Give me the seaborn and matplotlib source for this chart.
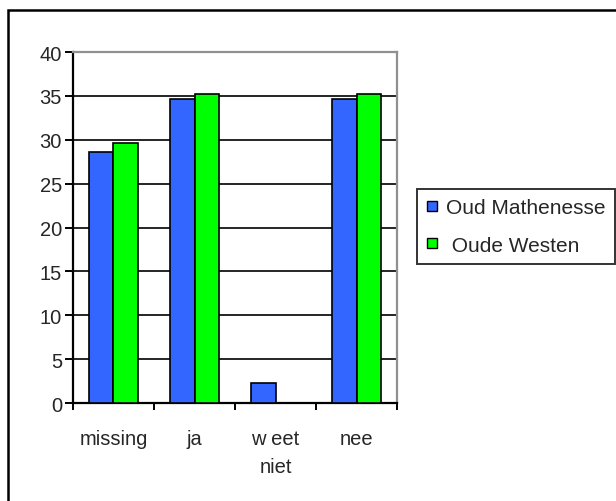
import matplotlib
matplotlib.use('Agg')
import matplotlib.pyplot as plt
from matplotlib.lines import Line2D
from matplotlib.patches import Rectangle
import seaborn as sns
import pandas as pd

categories = ['missing', 'ja', 'w eet\nniet', 'nee']
series = ['Oud Mathenesse', ' Oude Westen']
oud_mathenesse = [28.6, 34.6, 2.3, 34.6]
oude_westen = [29.6, 35.2, 0.0, 35.2]
yticks = [0, 5, 10, 15, 20, 25, 30, 35, 40]
colors = ['#3366FF', '#00FF00']

df = pd.DataFrame({
    'categorie': categories * 2,
    'wijk': [series[0]] * 4 + [series[1]] * 4,
    'percentage': oud_mathenesse + oude_westen,
})

sns.set_style('white')
plt.rcParams['font.family'] = ['Liberation Sans', 'DejaVu Sans']

fig = plt.figure(figsize=(6.16, 5.02), dpi=100)
ax = fig.add_axes([0.1185, 0.1952, 0.526, 0.6992])

sns.barplot(data=df, x='categorie', y='percentage', hue='wijk', order=categories,
            hue_order=series, palette=colors, saturation=1, width=0.6, gap=0,
            edgecolor='black', linewidth=1.2, ax=ax, legend=False, zorder=3)

ax.set_ylim(0, 40)
ax.set_xlim(-0.5, 3.5)
ax.set_yticks(yticks)
ax.yaxis.grid(True, color='black', linewidth=1.2, zorder=0)
ax.set_axisbelow(True)
ax.set_xlabel('')
ax.set_ylabel('')

ax.set_xticks(range(len(categories)))
ax.set_xticklabels(categories, linespacing=1.55)
ax.set_xticks([-0.5, 0.5, 1.5, 2.5, 3.5], minor=True)
ax.tick_params(axis='x', which='major', length=0, pad=19, labelsize=14.5)
ax.tick_params(axis='x', which='minor', length=5, width=1.4, color='black', direction='out', bottom=True)
ax.tick_params(axis='y', length=6, width=1.4, color='black', direction='out', pad=2, labelsize=14.5, left=True)

for side in ['left', 'bottom']:
    ax.spines[side].set_color('black')
    ax.spines[side].set_linewidth(1.6)
for side in ['top', 'right']:
    ax.spines[side].set_color('#909090')
    ax.spines[side].set_linewidth(1.6)

handles = [Line2D([], [], marker='s', linestyle='', markersize=6.5, markerfacecolor=c,
                  markeredgecolor='black', markeredgewidth=1) for c in colors]
leg = fig.legend(handles, series, loc='upper left', bbox_to_anchor=(0.677, 0.6215),
                 frameon=True, fancybox=False, edgecolor='black', fontsize=15,
                 handlelength=0.5, handletextpad=0.45, labelspacing=0.88,
                 borderpad=0.45, borderaxespad=0)
leg.get_frame().set_linewidth(1.4)

fig.patches.append(Rectangle((8 / 616, -0.1), 1.2, 1 - 11 / 502 + 0.1, transform=fig.transFigure,
                             fill=False, edgecolor='black', linewidth=1.8))

fig.savefig('out.png', dpi=100)
